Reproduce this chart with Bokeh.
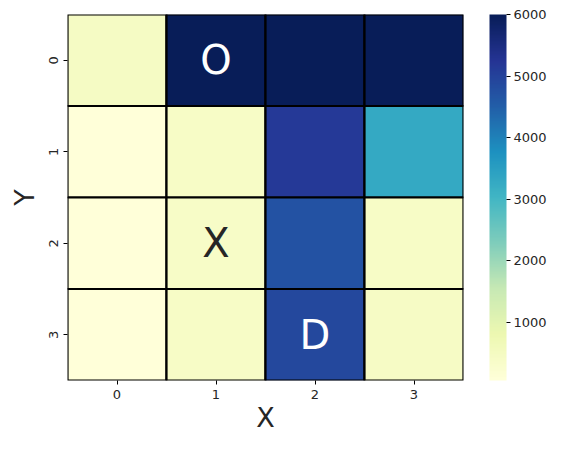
import numpy as np
from bokeh.plotting import figure
from bokeh.models import (ColumnDataSource, LinearColorMapper, ColorBar, FixedTicker,
                          Range1d)
from bokeh.transform import transform
from bokeh.core.properties import value
from bokeh.embed import file_html
from bokeh.resources import INLINE

# ---- data ----
x_labels = ["0", "1", "2", "3"]
y_labels = ["0", "1", "2", "3"]
row0 = [450, 6000, 5980, 5990]
row1 = [60, 420, 5150, 3300]
row2 = [70, 380, 4700, 420]
row3 = [50, 400, 4900, 430]
annot_text = ["O", "X", "D"]
annot_x = [1, 1, 2]
annot_y = [0, 2, 3]
annot_color = ["white", "#262626", "white"]
cbar_ticks = [1000, 2000, 3000, 4000, 5000, 6000]

rows = [row0, row1, row2, row3]
xs, ys, vs = [], [], []
for yi, r in enumerate(rows):
    for xi, v in enumerate(r):
        xs.append(xi); ys.append(yi); vs.append(v)

vmin = min(vs)
vmax = max(vs)

# YlGnBu colormap
anchors = ["#ffffd9", "#edf8b1", "#c7e9b4", "#7fcdbb", "#41b6c4",
           "#1d91c0", "#225ea8", "#253494", "#081d58"]
def h2rgb(h):
    return [int(h[i:i+2], 16) for i in (1, 3, 5)]
arr = np.array([h2rgb(a) for a in anchors], dtype=float)
pos = np.linspace(0, 1, len(anchors))
palette = []
for t in np.linspace(0, 1, 256):
    c = [np.interp(t, pos, arr[:, k]) for k in range(3)]
    palette.append("#%02x%02x%02x" % tuple(int(round(v)) for v in c))

mapper = LinearColorMapper(palette=palette, low=vmin, high=vmax)

src = ColumnDataSource(dict(x=xs, y=ys, v=vs))

FW, FH = 396, 366
p = figure(frame_width=FW, frame_height=FH, output_backend="svg", toolbar_location=None,
           x_range=Range1d(-0.5, 3.5), y_range=Range1d(3.5, -0.5),
           min_border_left=67, min_border_right=83, min_border_top=14, min_border_bottom=56)
p.outline_line_color = None
p.grid.visible = False

p.rect(x="x", y="y", width=1, height=1, source=src,
       fill_color=transform("v", mapper), line_color="black", line_width=2.2)

tsrc = ColumnDataSource(dict(x=annot_x, y=annot_y, t=annot_text, c=annot_color))
p.text(x="x", y="y", text="t", source=tsrc, text_color="c",
       text_font=value("DejaVu Sans"), text_font_size="40px",
       text_align="center", text_baseline="middle")

for ax in (p.xaxis[0], p.yaxis[0]):
    ax.axis_line_color = None
    ax.major_tick_in = 0
    ax.major_tick_out = 4
    ax.minor_tick_line_color = None
    ax.major_label_text_font = "DejaVu Sans"
    ax.major_label_text_font_size = "13px"
    ax.major_label_text_color = "#262626"
    ax.axis_label_text_font = "DejaVu Sans"
    ax.axis_label_text_font_size = "27px"
    ax.axis_label_text_font_style = "normal"
    ax.axis_label_text_color = "#262626"

p.xaxis.ticker = FixedTicker(ticks=[0, 1, 2, 3])
p.yaxis.ticker = FixedTicker(ticks=[0, 1, 2, 3])
p.xaxis.major_label_overrides = {i: s for i, s in enumerate(x_labels)}
p.yaxis.major_label_overrides = {i: s for i, s in enumerate(y_labels)}
p.yaxis.major_label_orientation = "vertical"
p.xaxis.axis_label = "X"
p.yaxis.axis_label = "Y"
p.xaxis.major_label_standoff = 5
p.yaxis.major_label_standoff = 6
p.xaxis.axis_label_standoff = 0
p.yaxis.axis_label_standoff = 6

cb = ColorBar(color_mapper=mapper, ticker=FixedTicker(ticks=cbar_ticks),
              width=17, height=FH, padding=0, margin=0,
              bar_line_color=None, border_line_color=None,
              major_tick_in=0, major_tick_out=4, major_tick_line_color="black",
              minor_tick_line_color=None,
              major_label_text_font="DejaVu Sans", major_label_text_font_size="13px",
              major_label_text_color="#262626", label_standoff=3,
              background_fill_color=None, location=(26, 0))
p.add_layout(cb, "right")

open("out.html", "w").write(file_html(p, INLINE))
